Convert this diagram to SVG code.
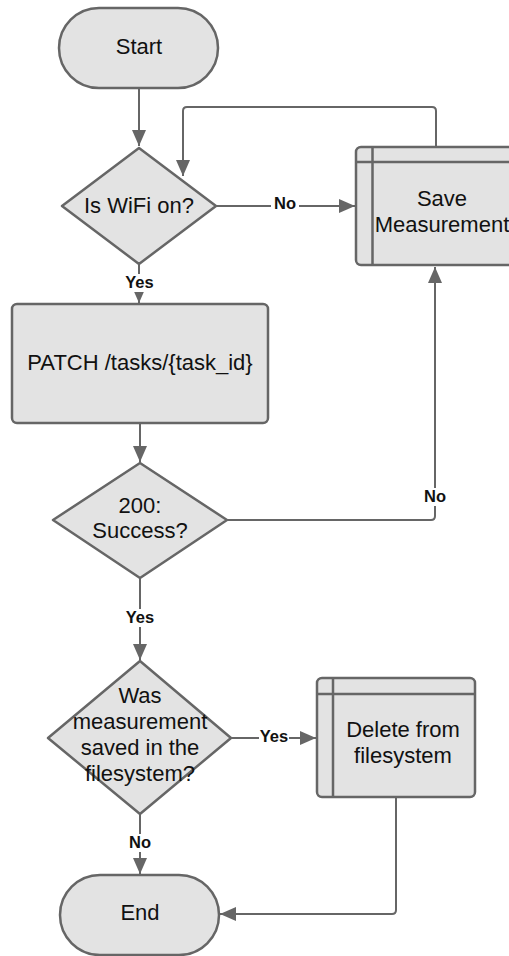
<svg xmlns="http://www.w3.org/2000/svg" width="509" height="956" viewBox="0 0 509 956">
<style>
.shape{fill:#e3e3e3;stroke:#666666;stroke-width:2.5;stroke-linejoin:round}
.inner{fill:none;stroke:#666666;stroke-width:2.5}
.t{font-family:"Liberation Sans",Arial,sans-serif;font-size:22px;fill:#111111;text-anchor:middle}
.lbl{font-family:"Liberation Sans",Arial,sans-serif;font-size:16.5px;font-weight:bold;fill:#111111;text-anchor:middle}
.edge{fill:none;stroke:#666666;stroke-width:2;stroke-linejoin:round}
.bg{fill:#ffffff}
</style>
<defs>
<marker id="arr" markerUnits="userSpaceOnUse" markerWidth="16" markerHeight="14" refX="16" refY="7" orient="auto">
<path d="M0,0 L16,7 L0,14 z" fill="#666666"/>
</marker>
</defs>
<rect width="509" height="956" fill="#ffffff"/>
<g id="connectors">
<path class="edge" d="M139,88 V146" marker-end="url(#arr)"/>
<path class="edge" d="M216,206 H355" marker-end="url(#arr)"/>
<path class="edge" d="M436,147 V111 Q436,107 432,107 H187 Q183,107 183,111 V176" marker-end="url(#arr)"/>
<path class="edge" d="M139,264 V303" marker-end="url(#arr)"/>
<path class="edge" d="M140,423 V462" marker-end="url(#arr)"/>
<path class="edge" d="M227,520 H431 Q435,520 435,516 V267" marker-end="url(#arr)"/>
<path class="edge" d="M140,578 V660" marker-end="url(#arr)"/>
<path class="edge" d="M231,738 H316" marker-end="url(#arr)"/>
<path class="edge" d="M140,814 V874" marker-end="url(#arr)"/>
<path class="edge" d="M396,797 V910 Q396,914 392,914 H220" marker-end="url(#arr)"/>
<rect class="bg" x="271" y="196" width="28" height="18"/>
<text class="lbl" x="285" y="209">No</text>
<rect class="bg" x="123" y="274" width="33" height="18"/>
<text class="lbl" x="139.5" y="288">Yes</text>
<rect class="bg" x="420" y="488" width="30" height="18"/>
<text class="lbl" x="435" y="502">No</text>
<rect class="bg" x="123" y="609" width="34" height="18"/>
<text class="lbl" x="140" y="623">Yes</text>
<rect class="bg" x="259" y="728" width="30" height="18"/>
<text class="lbl" x="274" y="742">Yes</text>
<rect class="bg" x="125" y="834" width="30" height="18"/>
<text class="lbl" x="140" y="848">No</text>
</g>
<g id="start">
<rect class="shape" x="59" y="8" width="159" height="80" rx="40"/>
<text class="t" x="139" y="54">Start</text>
</g>
<g id="wifi">
<path class="shape" d="M139,148 L216,206 L139,264 L62,206 Z"/>
<text class="t" x="139" y="213">Is WiFi on?</text>
</g>
<g id="save">
<rect class="shape" x="356" y="147" width="160" height="118" rx="5"/>
<path class="inner" d="M356,162 H516 M372.5,147 V265"/>
<text class="t" x="442" y="206">Save</text>
<text class="t" x="442" y="232">Measurement</text>
</g>
<g id="patch">
<rect class="shape" x="12" y="304" width="256" height="119" rx="5"/>
<text class="t" x="140" y="370">PATCH /tasks/{task_id}</text>
</g>
<g id="success">
<path class="shape" d="M140,463 L227,520 L140,578 L53,520 Z"/>
<text class="t" x="140" y="513">200:</text>
<text class="t" x="140" y="538">Success?</text>
</g>
<g id="saved">
<path class="shape" d="M140,661 L231,738 L140,814 L48,738 Z"/>
<text class="t" x="140" y="703">Was</text>
<text class="t" x="140" y="729">measurement</text>
<text class="t" x="140" y="755">saved in the</text>
<text class="t" x="140" y="781">filesystem?</text>
</g>
<g id="delete">
<rect class="shape" x="317" y="678" width="158" height="119" rx="5"/>
<path class="inner" d="M317,694 H475 M333,678 V797"/>
<text class="t" x="403" y="737">Delete from</text>
<text class="t" x="403" y="763">filesystem</text>
</g>
<g id="end">
<rect class="shape" x="60" y="875" width="159" height="80" rx="40"/>
<text class="t" x="140" y="920">End</text>
</g>
</svg>
